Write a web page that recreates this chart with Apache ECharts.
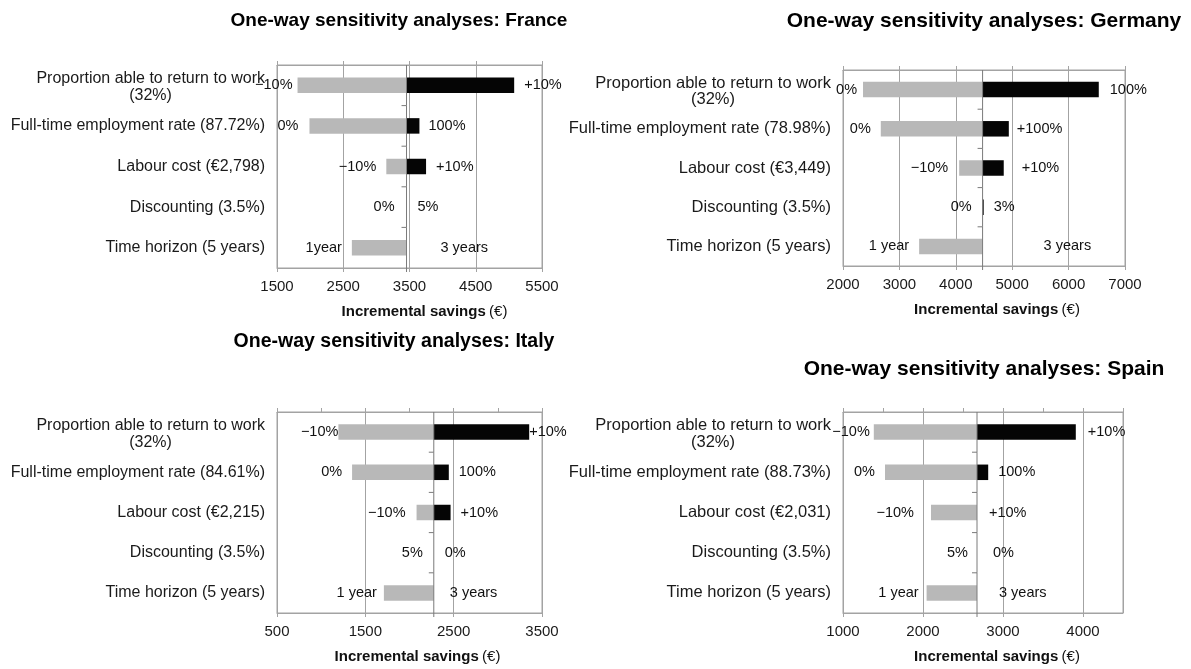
<!DOCTYPE html>
<html><head><meta charset="utf-8">
<script src="https://cdn.jsdelivr.net/npm/echarts/dist/echarts.min.js"></script>
<style>html,body{margin:0;padding:0;background:#fff}#c{width:1191px;height:669px}</style>
</head><body><div id="c"></div>
<script>
// ---------------- DATA ----------------
const franceCategories = ["Proportion able to return to work\n(32%)", "Full-time employment rate (87.72%)", "Labour cost (€2,798)", "Discounting (3.5%)", "Time horizon (5 years)"];
const franceBase = 3455;
const franceLow = [1810, 1990, 3150, 3455, 2630];
const franceHigh = [5080, 3650, 3750, 3455, 3455];
const franceLowLabels = ["−10%", "0%", "−10%", "0%", "1year"];
const franceHighLabels = ["+10%", "100%", "+10%", "5%", "3 years"];
const franceTicks = [1500, 2500, 3500, 4500, 5500];

const germanyCategories = ["Proportion able to return to work\n(32%)", "Full-time employment rate (78.98%)", "Labour cost (€3,449)", "Discounting (3.5%)", "Time horizon (5 years)"];
const germanyBase = 4475;
const germanyLow = [2355, 2670, 4060, 4475, 3350];
const germanyHigh = [6535, 4940, 4850, 4495, 4475];
const germanyLowLabels = ["0%", "0%", "−10%", "0%", "1 year"];
const germanyHighLabels = ["100%", "+100%", "+10%", "3%", "3 years"];
const germanyTicks = [2000, 3000, 4000, 5000, 6000, 7000];

const italyCategories = ["Proportion able to return to work\n(32%)", "Full-time employment rate (84.61%)", "Labour cost (€2,215)", "Discounting (3.5%)", "Time horizon (5 years)"];
const italyBase = 2275;
const italyLow = [1195, 1350, 2080, 2275, 1710];
const italyHigh = [3355, 2445, 2465, 2275, 2275];
const italyLowLabels = ["−10%", "0%", "−10%", "5%", "1 year"];
const italyHighLabels = ["+10%", "100%", "+10%", "0%", "3 years"];
const italyTicks = [500, 1500, 2500, 3500];

const spainCategories = ["Proportion able to return to work\n(32%)", "Full-time employment rate (88.73%)", "Labour cost (€2,031)", "Discounting (3.5%)", "Time horizon (5 years)"];
const spainBase = 2675;
const spainLow = [1385, 1525, 2100, 2675, 2045];
const spainHigh = [3910, 2815, 2675, 2675, 2675];
const spainLowLabels = ["−10%", "0%", "−10%", "5%", "1 year"];
const spainHighLabels = ["+10%", "100%", "+10%", "0%", "3 years"];
const spainTicks = [1000, 2000, 3000, 4000];
const spainAxisMax = 4500;

const axisName = "Incremental savings";
const titlePrefix = "One-way sensitivity analyses: ";

// ---------------- LAYOUT / STYLE ----------------
const FONT = '"Liberation Sans", Arial, Helvetica, sans-serif';
const GRAY = '#b8b8b8', BLACK = '#050505', GRIDC = '#a3a3a3', BASEC = '#7a7a7a', TXT = '#111';

const panels = [
  {name: 'France', cats: franceCategories, base: franceBase, low: franceLow, high: franceHigh,
   lowLab: franceLowLabels, highLab: franceHighLabels, ticks: franceTicks, max: franceTicks[franceTicks.length-1],
   lay: {left: 277, width: 265, top: 65, height: 203, titleX: 399, titleY: 21, titleSize: 19, catFont: 16, firstW: 229,
         nameShift: 30, topInterval: 1000, lowGap: [5, 11, 10, 12, 10], highGap: [10, 9, 10, 11, 34]}},
  {name: 'Germany', cats: germanyCategories, base: germanyBase, low: germanyLow, high: germanyHigh,
   lowLab: germanyLowLabels, highLab: germanyHighLabels, ticks: germanyTicks, max: germanyTicks[germanyTicks.length-1],
   lay: {left: 843, width: 282, top: 70, height: 196, titleX: 984, titleY: 21, titleSize: 21, catFont: 16.5, firstW: 236,
         nameShift: 26, topInterval: 1000, lowGap: [6, 10, 11, 11, 10], highGap: [11, 8, 18, 10, 61]}},
  {name: 'Italy', cats: italyCategories, base: italyBase, low: italyLow, high: italyHigh,
   lowLab: italyLowLabels, highLab: italyHighLabels, ticks: italyTicks, max: italyTicks[italyTicks.length-1],
   lay: {left: 277, width: 265, top: 412, height: 201, titleX: 394, titleY: 342, titleSize: 19.5, catFont: 16, firstW: 229,
         nameShift: 16, topInterval: 500, lowGap: [0, 10, 11, 11, 7], highGap: [0, 10, 10, 11, 16]}},
  {name: 'Spain', cats: spainCategories, base: spainBase, low: spainLow, high: spainHigh,
   lowLab: spainLowLabels, highLab: spainHighLabels, ticks: spainTicks, max: spainAxisMax,
   lay: {left: 843, width: 280, top: 412, height: 201, titleX: 984, titleY: 369, titleSize: 21, catFont: 16.5, firstW: 236,
         nameShift: 28, topInterval: 500, lowGap: [4, 10, 17, 9, 8], highGap: [12, 10, 12, 16, 22]}}
];

const chart = echarts.init(document.getElementById('c'), null, {renderer: 'canvas'});

const grid = [], xAxis = [], yAxis = [], series = [], graphic = [];

panels.forEach((p, gi) => {
  const L = p.lay;
  grid.push({left: L.left, top: L.top, width: L.width, height: L.height, show: true,
             borderColor: GRIDC, borderWidth: 1, backgroundColor: 'transparent', containLabel: false});
  const min = p.ticks[0], interval = p.ticks[1] - p.ticks[0];
  xAxis.push({
    type: 'value', gridIndex: gi, position: 'bottom', min: min, max: p.max, interval: interval,
    axisLine: {show: true, lineStyle: {color: GRIDC}},
    axisTick: {show: true, length: 4, lineStyle: {color: GRIDC}},
    axisLabel: {fontSize: 15, color: '#1a1a1a', margin: 11, fontFamily: FONT,
                showMaxLabel: p.max === p.ticks[p.ticks.length-1],
                formatter: function (v) { return String(v); }},
    splitLine: {show: true, lineStyle: {color: GRIDC, width: 1}},
    name: '{b|' + axisName + '} {r|(€)}', nameLocation: 'middle', nameGap: 36,
    nameTextStyle: {padding: [0, 0, 0, L.nameShift], fontFamily: FONT,
      rich: {b: {fontWeight: 'bold', fontSize: 15, color: TXT, fontFamily: FONT},
             r: {fontWeight: 'normal', fontSize: 15, color: TXT, fontFamily: FONT}}}
  });
  xAxis.push({
    type: 'value', gridIndex: gi, position: 'top', min: min, max: p.max, interval: L.topInterval,
    axisLine: {show: true, lineStyle: {color: GRIDC}},
    axisTick: {show: true, length: 4, lineStyle: {color: GRIDC}},
    axisLabel: {show: false}, splitLine: {show: false}
  });
  yAxis.push({
    type: 'category', gridIndex: gi, data: p.cats, inverse: true,
    axisLine: {show: false}, axisTick: {show: false}, splitLine: {show: false},
    axisLabel: {
      fontSize: L.catFont, color: '#1a1a1a', margin: 12, fontFamily: FONT, lineHeight: 20,
      formatter: function (v) {
        if (v.indexOf('\n') >= 0) {
          const parts = v.split('\n');
          return '{t|' + parts[0] + '}\n{c|' + parts[1] + '}';
        }
        return '{a|' + v + '}';
      },
      rich: {
        a: {fontSize: L.catFont, fontFamily: FONT, color: '#1a1a1a', lineHeight: 20},
        t: {fontSize: L.catFont, fontFamily: FONT, color: '#1a1a1a', lineHeight: 20, padding: [6, 0, 0, 0]},
        c: {fontSize: L.catFont, fontFamily: FONT, color: '#1a1a1a', lineHeight: 19, width: L.firstW, align: 'center'}
      }
    }
  });
  const data = p.cats.map((c, i) => [i, p.low[i], p.high[i]]);
  series.push({
    type: 'custom', xAxisIndex: gi * 2, yAxisIndex: gi, coordinateSystem: 'cartesian2d',
    encode: {y: 0, x: [1, 2]}, clip: false, silent: true,
    data: data,
    renderItem: function (params, api) {
      const i = api.value(0);
      const lo = api.value(1), hi = api.value(2);
      const pc = api.coord([p.base, i]);
      const pl = api.coord([lo, i]);
      const ph = api.coord([hi, i]);
      const band = api.size([0, 1])[1];
      const cy = pc[1];
      const h = 15.5;
      const ch = [];
      if (pl[0] < pc[0] - 0.3) ch.push({type: 'rect', shape: {x: pl[0], y: cy - h / 2, width: pc[0] - pl[0], height: h}, style: {fill: GRAY}});
      if (ph[0] > pc[0] + 0.3) ch.push({type: 'rect', shape: {x: pc[0], y: cy - h / 2, width: ph[0] - pc[0], height: h}, style: {fill: BLACK}});
      const last = i === p.cats.length - 1;
      ch.push({type: 'line', shape: {x1: pc[0], y1: cy - band / 2, x2: pc[0], y2: cy + band / 2 + (last ? 4 : 0)},
               style: {stroke: BASEC, lineWidth: 1}});
      if (i > 0) ch.push({type: 'line', shape: {x1: pc[0] - 5, y1: cy - band / 2, x2: pc[0], y2: cy - band / 2},
               style: {stroke: BASEC, lineWidth: 1}});
      const lx = Math.min(pl[0], pc[0]) - L.lowGap[i];
      const hx = Math.max(ph[0], pc[0]) + L.highGap[i];
      ch.push({type: 'text', style: {text: p.lowLab[i], x: lx, y: cy, align: 'right', verticalAlign: 'middle',
               textAlign: 'right', textVerticalAlign: 'middle', fill: TXT, font: '14.5px ' + FONT}});
      ch.push({type: 'text', style: {text: p.highLab[i], x: hx, y: cy, align: 'left', verticalAlign: 'middle',
               textAlign: 'left', textVerticalAlign: 'middle', fill: TXT, font: '14.5px ' + FONT}});
      return {type: 'group', children: ch};
    }
  });
  graphic.push({type: 'text', x: L.titleX, y: L.titleY, silent: true,
    style: {text: titlePrefix + p.name, align: 'center', verticalAlign: 'middle', textAlign: 'center', textVerticalAlign: 'middle',
            fill: '#000', font: 'bold ' + L.titleSize + 'px ' + FONT}});
});

chart.setOption({animation: false, backgroundColor: '#fff', grid, xAxis, yAxis, series, graphic});
</script></body></html>
